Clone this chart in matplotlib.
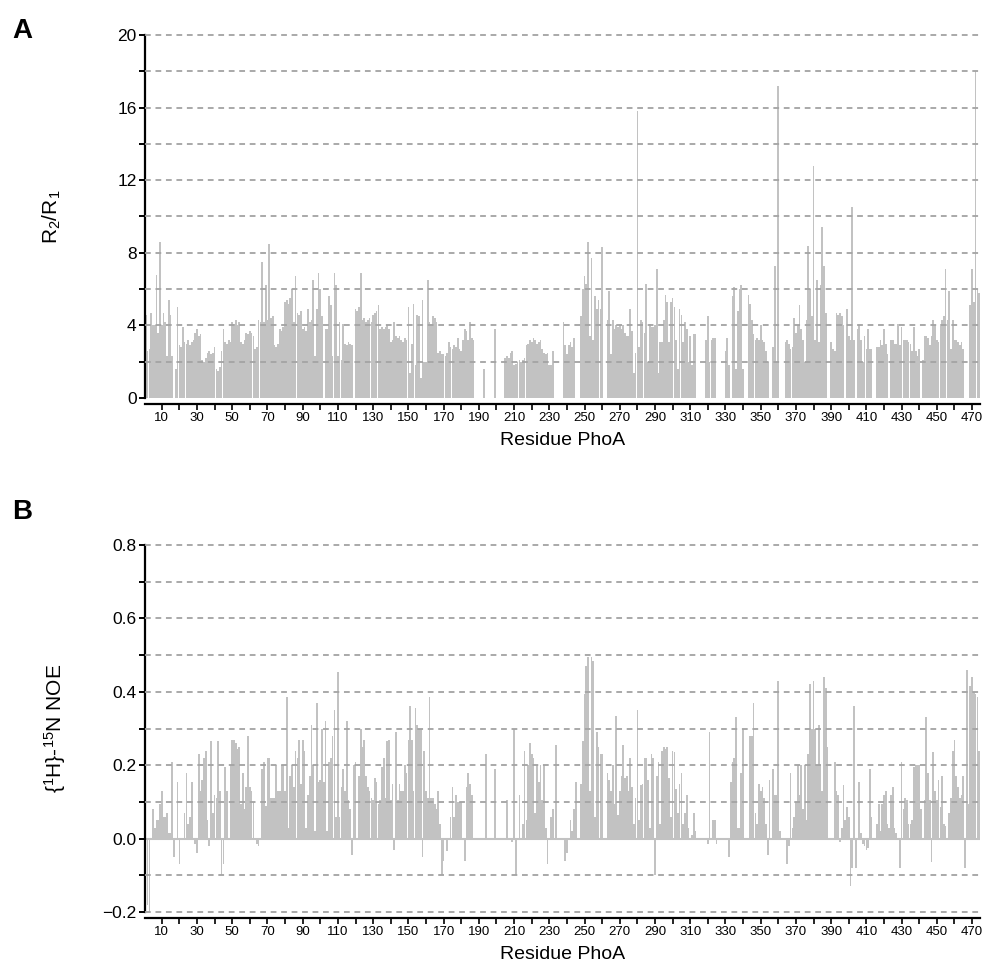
import matplotlib
matplotlib.use('Agg')
import matplotlib.pyplot as plt
import numpy as np
from matplotlib.ticker import FixedLocator, NullFormatter

plt.rcParams['font.family'] = ['Liberation Sans', 'DejaVu Sans']
plt.rcParams['mathtext.fontset'] = 'custom'
plt.rcParams['mathtext.rm'] = 'Liberation Sans'
plt.rcParams['mathtext.it'] = 'Liberation Sans:italic'

# ---------------- data ----------------
residues = list(range(1, 475))

r2_r1 = [
    4.6, 2.6, 2.7, 4.7, 4.0, 4.0, 6.8, 3.6, 8.6, 4.0,
    4.7, 4.2, 2.3, 5.4, 4.6, 2.3, 0, 1.6, 5.0, 2.9,
    2.8, 3.9, 3.1, 3.0, 3.2, 2.9, 3.1, 3.2, 3.6, 3.8,
    3.4, 3.5, 2.1, 2.0, 2.2, 2.5, 2.6, 2.4, 2.5, 2.8,
    1.6, 1.5, 1.7, 2.6, 3.8, 3.1, 3.0, 3.2, 3.1, 4.2,
    4.1, 4.3, 4.0, 4.2, 3.1, 3.0, 3.2, 3.6, 3.5, 3.7,
    3.6, 3.4, 2.7, 2.8, 4.3, 4.2, 7.5, 4.2, 6.2, 4.3,
    8.5, 4.4, 4.5, 2.9, 2.8, 3.0, 3.8, 3.7, 3.9, 5.3,
    5.4, 5.2, 5.5, 6.0, 4.2, 6.7, 4.7, 4.6, 4.8, 3.8,
    3.9, 3.7, 4.9, 4.2, 4.3, 6.5, 2.3, 4.9, 6.9, 6.0,
    4.5, 0, 3.8, 3.8, 5.6, 5.1, 2.3, 6.9, 6.2, 2.3,
    4.2, 2.1, 4.1, 3.0, 2.9, 3.1, 3.0, 2.9, 0, 4.9,
    4.8, 5.0, 6.9, 4.3, 4.4, 4.2, 4.3, 4.4, 4.2, 4.6,
    4.7, 4.8, 5.1, 3.8, 3.9, 3.8, 3.9, 4.0, 3.8, 3.1,
    3.2, 4.2, 3.4, 3.3, 3.4, 3.2, 3.1, 3.3, 3.2, 5.0,
    1.4, 3.0, 5.2, 1.8, 4.6, 4.5, 1.1, 5.4, 2.0, 2.0,
    6.5, 4.2, 4.1, 4.5, 4.4, 4.2, 2.5, 2.6, 2.4, 2.4,
    2.3, 2.5, 3.1, 2.8, 2.7, 2.9, 2.8, 3.3, 2.7, 2.6,
    3.2, 3.8, 3.7, 3.2, 4.2, 3.3, 3.2, 0, 0, 0,
    0, 0, 1.6, 0, 0, 0, 0, 0, 3.8, 0,
    0, 0, 0, 0, 2.2, 2.3, 2.2, 2.5, 2.6, 1.8,
    1.9, 2.0, 2.1, 2.0, 2.1, 2.2, 2.9, 3.0, 3.2, 3.1,
    3.3, 3.2, 3.0, 3.1, 3.2, 2.7, 2.5, 2.4, 2.5, 1.8,
    1.8, 2.6, 0, 0, 0, 0, 0, 4.2, 2.9, 2.4,
    2.9, 3.1, 2.8, 3.3, 0, 0, 0, 4.5, 6.0, 6.7,
    6.3, 8.6, 3.4, 7.7, 3.2, 5.6, 4.9, 5.4, 4.9, 8.3,
    0, 0, 4.3, 5.9, 2.4, 4.3, 3.8, 4.0, 3.9, 4.0,
    3.8, 4.0, 3.6, 3.4, 3.4, 4.9, 3.7, 1.4, 2.5, 15.8,
    2.8, 4.3, 4.2, 3.6, 6.3, 2.0, 4.1, 3.9, 3.9, 4.0,
    7.1, 1.4, 3.1, 3.1, 4.3, 5.7, 5.3, 3.1, 5.3, 5.5,
    5.0, 3.2, 1.6, 4.9, 4.6, 3.1, 4.2, 3.8, 2.0, 3.4,
    1.8, 3.5, 3.5, 0, 0, 0, 0, 0, 3.2, 4.5,
    2.0, 3.2, 3.3, 3.3, 0, 0, 0, 0, 0, 2.6,
    3.3, 1.8, 0, 5.6, 6.1, 1.6, 4.8, 6.0, 6.2, 1.6,
    0, 0, 5.7, 5.2, 4.3, 3.5, 3.2, 3.3, 3.2, 4.0,
    3.2, 3.1, 2.6, 2.0, 0, 0, 2.8, 7.3, 2.0, 17.2,
    0, 0, 0, 3.1, 3.2, 3.0, 2.7, 2.8, 4.4, 3.6,
    4.0, 5.1, 3.8, 3.2, 2.0, 4.3, 8.4, 6.0, 4.5, 12.8,
    3.2, 6.5, 3.1, 6.2, 9.4, 7.3, 4.7, 0, 0, 3.1,
    2.7, 2.6, 4.7, 4.6, 4.7, 4.5, 4.0, 0, 4.9, 3.4,
    3.2, 10.5, 3.2, 0, 3.8, 4.0, 3.2, 2.0, 3.4, 2.7,
    3.8, 2.7, 2.7, 0, 0, 2.8, 2.8, 3.2, 2.9, 3.8,
    3.0, 2.4, 0, 3.2, 3.2, 3.0, 3.0, 4.1, 2.9, 3.9,
    3.2, 3.2, 3.2, 3.1, 3.0, 2.6, 3.9, 2.6, 2.3, 2.7,
    0, 2.1, 3.4, 3.4, 3.3, 2.9, 3.4, 4.3, 4.0, 3.2,
    3.1, 4.1, 4.3, 4.5, 7.1, 4.3, 5.9, 2.7, 4.3, 3.2,
    3.2, 3.1, 2.9, 3.1, 2.7, 0, 0, 0, 5.1, 7.1,
    5.3, 18.0, 6.0, 5.8,
]

noe = [
    0, -0.18, -0.2, 0, 0.08, 0.03, 0.05, 0.05, 0.095, 0.13,
    0.06, 0.06, 0.07, 0.015, 0.015, 0.21, -0.05, 0, 0.155, -0.07,
    0, 0, 0.07, 0.18, 0.04, 0.06, 0.155, 0, -0.015, -0.04,
    0.23, 0.13, 0.16, 0.22, 0.24, 0.05, -0.02, 0.265, 0.07, 0.12,
    0.11, 0.265, 0.13, -0.1, -0.07, 0.195, 0.13, 0, 0.2, 0.27,
    0.27, 0.26, 0.245, 0.25, 0.095, 0.18, 0.08, 0.14, 0.28, 0.14,
    0.13, 0.1, 0, -0.015, -0.02, 0, 0.19, 0.21, 0.09, 0.22,
    0.22, 0.11, 0.11, 0.11, 0.2, 0.13, 0.13, 0.2, 0.2, 0.13,
    0.385, 0.03, 0.17, 0.2, 0.14, 0.24, 0.22, 0.27, 0.15, 0.27,
    0.24, 0.03, 0.12, 0.17, 0.31, 0.2, 0.02, 0.37, 0.155, 0.16,
    0.3, 0.155, 0.32, 0.02, 0.21, 0.22, 0.28, 0.35, 0.06, 0.455,
    0.06, 0.14, 0.19, 0.13, 0.32, 0.105, 0.08, -0.045, 0.2, 0.21,
    0, 0.17, 0.3, 0.25, 0.27, 0.17, 0.14, 0.13, 0.11, 0.105,
    0.165, 0.155, 0.095, 0.105, 0.195, 0.22, 0.11, 0.265, 0.27, 0.105,
    0.15, -0.03, 0.29, 0.105, 0.15, 0.13, 0.13, 0.2, 0.18, 0.27,
    0.36, 0.27, 0.13, 0.355, 0.31, 0.3, 0.3, -0.05, 0.24, 0.13,
    0.11, 0.385, 0.11, 0.11, 0.095, 0.08, 0.13, 0.04, -0.1, -0.06,
    0, -0.035, 0, 0.06, 0.14, 0.06, 0.12, 0.1, 0.1, 0.1,
    0, -0.06, 0.14, 0.18, 0.15, 0.12, 0, 0, 0, 0,
    0, 0, 0, 0.23, 0, 0, 0, 0, 0.19, 0,
    0, 0, 0, 0, 0, 0.105, 0, 0, -0.01, 0.3,
    -0.1, 0, 0.12, 0, 0.04, 0.24, 0.05, 0.2, 0.26, 0.23,
    0.22, 0.07, 0.2, 0.155, 0.2, 0.105, 0.2, 0.03, -0.07, 0,
    0.06, 0.08, 0, 0.255, 0, 0, 0, 0, -0.06, -0.04,
    0, 0.05, 0.02, 0.08, 0.155, 0, 0, 0.15, 0.265, 0.395,
    0.47, 0.495, 0.13, 0.495, 0.485, 0.06, 0.29, 0.25, 0.23, 0.23,
    0, 0, 0.18, 0.16, 0.13, 0.2, 0.095, 0.335, 0.065, 0.13,
    0.17, 0.255, 0.165, 0.17, 0.13, 0.22, 0.14, 0.04, 0.11, 0.35,
    0.05, 0.145, 0.15, 0.22, 0.22, 0.16, 0.03, 0.23, 0.22, -0.1,
    0.17, 0.21, 0.04, 0.24, 0.25, 0.245, 0.25, 0.165, 0.06, 0.24,
    0.235, 0.135, 0.07, 0.15, 0.18, 0.04, 0.07, 0.12, 0.03, 0,
    0.01, 0.07, 0.02, 0, 0, 0, 0, 0, 0, -0.015,
    0.29, 0, 0.05, 0.05, -0.015, 0, 0, 0, 0, 0,
    0, -0.05, 0.155, 0.21, 0.22, 0.33, 0.03, 0.03, 0.18, 0.3,
    0, 0, 0, 0.28, 0.28, 0.37, 0.07, 0.04, 0.15, 0.13,
    0.14, 0.11, 0.04, -0.045, 0.16, 0, 0.19, 0.12, 0.12, 0.43,
    0.02, 0, 0, 0, -0.07, -0.02, 0.18, 0.03, 0.06, 0.1,
    0.2, 0.12, 0.2, 0.08, 0.2, 0.05, 0.23, 0.42, 0.3, 0.43,
    0.3, 0.2, 0.31, 0.2, 0.13, 0.44, 0.41, 0.25, 0, 0,
    0, 0.21, 0.13, 0.12, -0.01, 0.03, 0.145, 0.05, 0.085, 0.06,
    -0.13, -0.08, 0.36, -0.08, 0, 0.155, 0.015, -0.015, -0.02, -0.03,
    -0.025, 0.19, 0.06, 0, 0, 0.04, 0.095, 0.02, 0.095, 0.12,
    0.13, 0.04, 0.03, 0.12, 0.14, 0.03, 0.015, 0, -0.08, 0.21,
    0.08, 0.11, 0.105, 0.04, 0.04, 0.05, 0.195, 0.2, 0.2, 0.2,
    0.08, 0, 0.105, 0.33, 0.18, 0.105, -0.065, 0.235, 0.13, 0.105,
    0.16, 0.085, 0.17, 0.04, 0.035, 0, 0.07, 0.11, 0.24, 0.27,
    0.17, 0.14, 0.11, 0.12, 0.17, -0.08, 0.46, 0.095, 0.415, 0.44,
    0.4, 0.395, 0.385, 0.24,
]

x_major = list(range(10, 471, 20))
x_minor = list(range(20, 461, 20))
a_grid = [2, 4, 6, 8, 10, 12, 14, 16, 18, 20]
b_grid = [-0.2, -0.1, 0.1, 0.2, 0.3, 0.4, 0.5, 0.6, 0.7, 0.8]

# ---------------- figure ----------------
W, H = 1006, 977
fig = plt.figure(figsize=(W / 100, H / 100), dpi=100)
left, right = 145, 980
axA = fig.add_axes([left / W, 1 - 398 / H, (right - left) / W, 363 / H])
axB = fig.add_axes([left / W, 1 - 912 / H, (right - left) / W, 367 / H])

bar_color = '#c2c2c2'
grid_color = '#a3a3a3'


def style(ax, grid_levels):
    for y in grid_levels:
        ax.axhline(y, color=grid_color, linestyle=(0, (3.2, 2.6)), linewidth=1.3,
                   zorder=3, clip_on=False)
    ax.set_xlim(0.5, 474.5)
    for s in ('top', 'right'):
        ax.spines[s].set_visible(False)
    ax.spines['left'].set_linewidth(1.6)
    ax.spines['bottom'].set_linewidth(1.6)
    ax.spines['bottom'].set_position(('outward', 4))
    ax.xaxis.set_major_locator(FixedLocator(x_major))
    ax.xaxis.set_minor_locator(FixedLocator(x_minor))
    ax.xaxis.set_minor_formatter(NullFormatter())
    ax.tick_params(axis='x', which='both', direction='out', length=4, width=1.2,
                   labelsize=9.5, pad=2)
    ax.tick_params(axis='y', which='both', direction='out', length=4, width=1.4,
                   labelsize=12.5, pad=2)
    ax.set_xlabel('Residue PhoA', fontsize=14, labelpad=6)


# Panel A
axA.bar(residues, r2_r1, width=0.95, color=bar_color, linewidth=0, zorder=2)
style(axA, a_grid)
axA.set_ylim(0, 20)
axA.yaxis.set_major_locator(FixedLocator([0, 4, 8, 12, 16, 20]))
axA.yaxis.set_minor_locator(FixedLocator([2, 6, 10, 14, 18]))
axA.set_ylabel(r'$\mathrm{R_2/R_1}$', fontsize=15)
axA.yaxis.set_label_coords((63 - left) / (right - left), 0.5)

# Panel B
axB.axhline(0, color=bar_color, linewidth=1.5, zorder=1)
axB.bar(residues, noe, width=0.95, color=bar_color, linewidth=0, zorder=2)
style(axB, b_grid)
axB.set_ylim(-0.2, 0.8)
axB.yaxis.set_major_locator(FixedLocator([-0.2, 0.0, 0.2, 0.4, 0.6, 0.8]))
axB.yaxis.set_minor_locator(FixedLocator([-0.1, 0.1, 0.3, 0.5, 0.7]))
axB.set_yticklabels(['\u22120.2', '0.0', '0.2', '0.4', '0.6', '0.8'])
axB.set_ylabel(r'$\{^{1}\mathrm{H}\}$-$^{15}\mathrm{N}$ NOE', fontsize=15)
axB.yaxis.set_label_coords((68 - left) / (right - left), 0.5)

fig.text(12 / W, 1 - 31 / H, 'A', fontsize=20, fontweight='bold', va='center', ha='left')
fig.text(12 / W, 1 - 512 / H, 'B', fontsize=20, fontweight='bold', va='center', ha='left')

fig.savefig('out.png', dpi=100)
